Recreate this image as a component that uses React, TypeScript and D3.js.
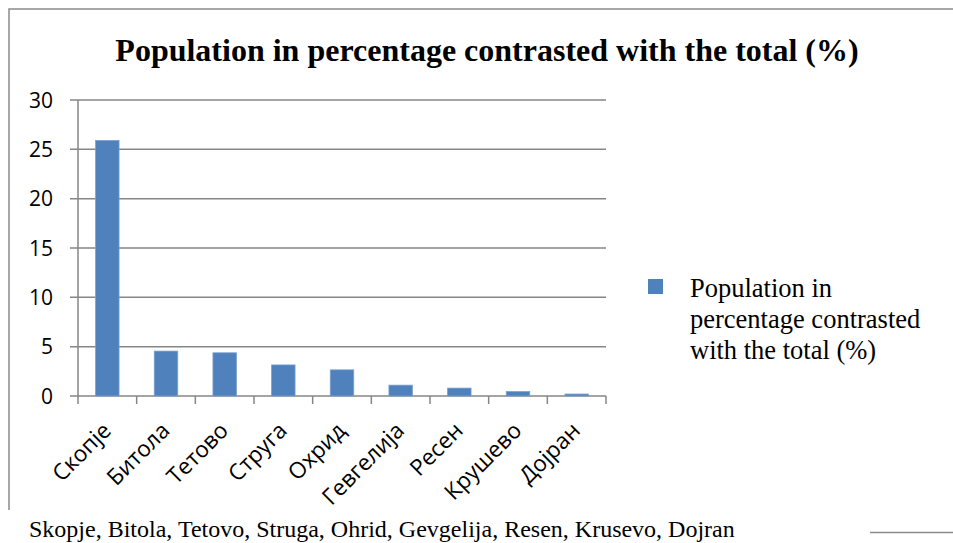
import * as d3 from "d3";

// population share per town
const cities = ["Скопје", "Битола", "Тетово", "Струга", "Охрид", "Гевгелија", "Ресен", "Крушево", "Дојран"];
const shares = [25.9, 4.55, 4.38, 3.15, 2.65, 1.1, 0.8, 0.45, 0.2];
const yTicks = [0, 5, 10, 15, 20, 25, 30];
const title = "Population in percentage contrasted with the total (%)";
const legendLines = ["Population in", "percentage contrasted", "with the total (%)"];
const footnote = "Skopje, Bitola, Tetovo, Struga, Ohrid, Gevgelija, Resen, Krusevo, Dojran";

const width = 953;
const height = 543;
const plot = { left: 78, right: 606, top: 100, bottom: 396 };
const grid = "#868686";
const barFill = "#4f81bd";
const sans = "'Open Sans', 'Noto Sans', sans-serif";
const serif = "'Liberation Serif', 'DejaVu Serif', serif";

export default function App() {
  const x = d3.scaleBand<string>()
    .domain(cities)
    .range([plot.left, plot.right])
    .paddingInner(0.6)
    .paddingOuter(0.3);
  const step = (plot.right - plot.left) / cities.length;
  const y = d3.scaleLinear().domain([0, 30]).range([plot.bottom, plot.top]);

  return (
    <svg width={width} height={height} style={{ position: "absolute", left: 0, top: 0, background: "#fff" }}>
      {/* frame */}
      <path d={`M9,510 V9 H${width}`} fill="none" stroke="#8c8c8c" strokeWidth={1.5} />
      <line x1={870} x2={width} y1={532.5} y2={532.5} stroke="#8c8c8c" strokeWidth={1.5} />

      <text x={487} y={61} textAnchor="middle" fontFamily={serif} fontWeight="bold" fontSize={32}>
        {title}
      </text>

      {/* gridlines + y ticks */}
      {yTicks.map((t) => (
        <g key={t}>
          <line x1={plot.left - 8} x2={plot.right} y1={y(t)} y2={y(t)} stroke={grid} strokeWidth={1.5} />
          <text x={53} y={y(t)} dy="0.36em" textAnchor="end" fontFamily={sans} fontSize={21} fill="#000">
            {t}
          </text>
        </g>
      ))}
      <line x1={plot.left} x2={plot.left} y1={plot.top} y2={plot.bottom} stroke={grid} strokeWidth={1.5} />

      {/* x ticks */}
      {d3.range(cities.length + 1).map((i) => (
        <line key={i} x1={plot.left + i * step} x2={plot.left + i * step} y1={plot.bottom} y2={plot.bottom + 8} stroke={grid} strokeWidth={1.5} />
      ))}

      {/* bars */}
      {cities.map((c, i) => (
        <rect key={c} x={x(c)} y={y(shares[i])} width={x.bandwidth()} height={plot.bottom - y(shares[i])}
          fill={barFill} stroke="#7aa0d0" strokeWidth={0.8} />
      ))}

      {/* rotated category labels */}
      {cities.map((c) => {
        const cx = (x(c) ?? 0) + x.bandwidth() / 2 + 5;
        return (
          <text key={c} transform={`translate(${cx},432) rotate(-45)`} textAnchor="end" fontFamily={sans} fontSize={22.5} fill="#000">
            {c}
          </text>
        );
      })}

      {/* legend */}
      <rect x={648} y={279} width={15} height={15} fill={barFill} />
      {legendLines.map((l, i) => (
        <text key={l} x={690} y={297 + i * 31} fontFamily={serif} fontSize={26.5} fill="#000">
          {l}
        </text>
      ))}

      <text x={29} y={537} fontFamily={serif} fontSize={24} fill="#000">
        {footnote}
      </text>
    </svg>
  );
}
